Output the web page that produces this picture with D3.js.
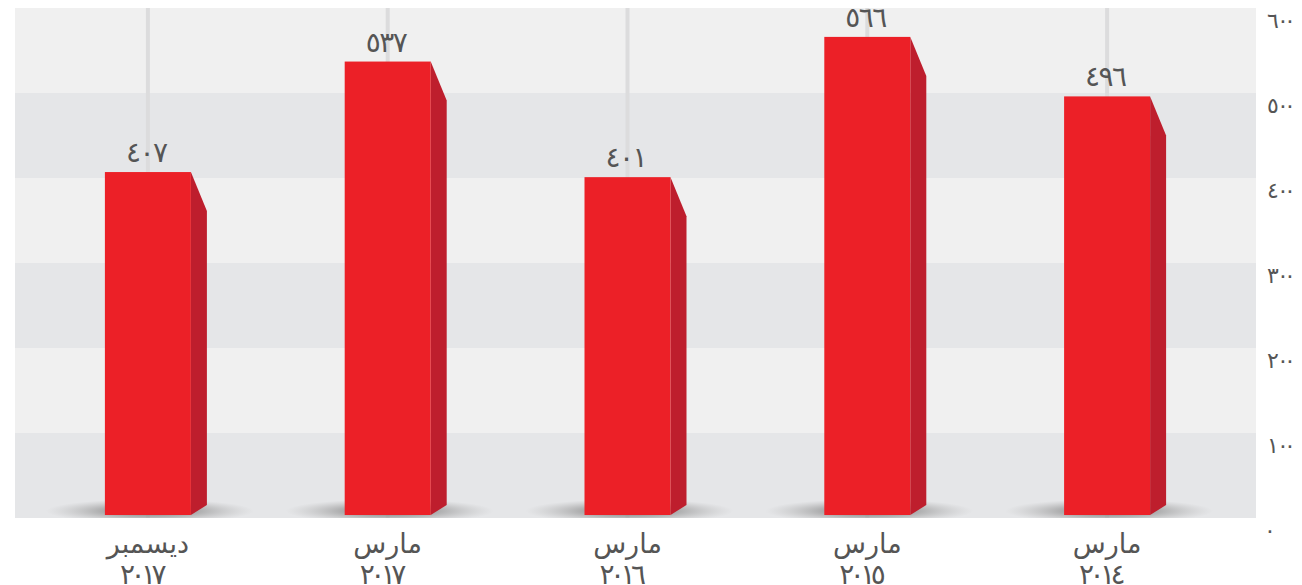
<!DOCTYPE html>
<html>
<head>
<meta charset="utf-8">
<script src="https://cdn.jsdelivr.net/npm/d3@7"></script>
<style>
  body { margin: 0; background: #fff; }
  text { font-family: "DejaVu Sans", sans-serif; }
</style>
</head>
<body>
<svg id="chart" width="1302" height="585"></svg>
<script>
// categories (right to left in the picture means oldest on the right)
const categories = ["ديسمبر ٢٠١٧", "مارس ٢٠١٧", "مارس ٢٠١٦", "مارس ٢٠١٥", "مارس ٢٠١٤"];
const values = [407, 537, 401, 566, 496];
const yTicks = [0, 100, 200, 300, 400, 500, 600];

const toArabic = n => String(n).replace(/\d/g, d => "٠١٢٣٤٥٦٧٨٩"[d]);

// siffrorna ligger tätt i originalet: placera varje tecken för sig
const digitXs = (x0, str, step) => Array.from(str, (_, i) => x0 + i * step).join(" ");

const svg = d3.select("#chart");
const plotL = 15, plotR = 1256, plotT = 8, plotB = 518;

const x = d3.scaleBand()
  .domain(categories)
  .range([28, 1227]);

const y = d3.scaleLinear()
  .domain([0, 600])
  .range([plotB, plotT]);

const barW = 86;
const sideW = 16, sideDrop = 39, sideRise = 10;

const defs = svg.append("defs");
const grad = defs.append("radialGradient").attr("id", "shadow");
grad.append("stop").attr("offset", "0%").attr("stop-color", "#555").attr("stop-opacity", 0.9);
grad.append("stop").attr("offset", "50%").attr("stop-color", "#888").attr("stop-opacity", 0.55);
grad.append("stop").attr("offset", "100%").attr("stop-color", "#aaa").attr("stop-opacity", 0);

defs.append("clipPath").attr("id", "plotclip")
  .append("rect")
  .attr("x", plotL).attr("y", plotT)
  .attr("width", plotR - plotL).attr("height", plotB - plotT);

// bandes de fond
const bands = d3.range(0, 6);
svg.selectAll("rect.band")
  .data(bands)
  .enter()
  .append("rect")
  .attr("class", "band")
  .attr("x", plotL)
  .attr("width", plotR - plotL)
  .attr("y", i => y((i + 1) * 100))
  .attr("height", i => y(i * 100) - y((i + 1) * 100))
  .attr("fill", i => i % 2 === 0 ? "#e5e6e8" : "#f0f0f0");

// vertical grid lines
svg.selectAll("line.vgrid")
  .data(categories)
  .enter()
  .append("line")
  .attr("x1", d => x(d) + x.bandwidth() / 2)
  .attr("x2", d => x(d) + x.bandwidth() / 2)
  .attr("y1", plotT)
  .attr("y2", plotB)
  .attr("stroke", "#dcdcdd")
  .attr("stroke-width", 4);

// shadows
svg.append("g")
  .attr("clip-path", "url(#plotclip)")
  .selectAll("ellipse")
  .data(categories)
  .enter()
  .append("ellipse")
  .attr("cx", d => x(d) + x.bandwidth() / 2 + 2)
  .attr("cy", plotB - 7)
  .attr("rx", 104)
  .attr("ry", 12)
  .attr("fill", "url(#shadow)");

const bars = svg.selectAll("g.bar")
  .data(categories.map((c, i) => ({ cat: c, value: values[i] })))
  .enter()
  .append("g")
  .attr("class", "bar");

const cx = c => x(c) + x.bandwidth() / 2;
const bx = d => cx(d.cat) - barW / 2;

// side face
bars.append("path")
  .attr("d", d => {
    const x0 = bx(d) + barW, t = y(d.value);
    return `M${x0},${t} L${x0 + sideW},${t + sideDrop} L${x0 + sideW},${plotB - 3 - sideRise} L${x0},${plotB - 3} Z`;
  })
  .attr("fill", "#be1e2d");

// front face
bars.append("rect")
  .attr("x", bx)
  .attr("width", barW)
  .attr("y", d => y(d.value))
  .attr("height", d => plotB - 3 - y(d.value))
  .attr("fill", "#ec2027");

// value labels
bars.append("text")
  .attr("x", d => digitXs(cx(d.cat) - 22, toArabic(d.value), 13.5))
  .attr("y", d => y(d.value) - 10)
  .attr("font-size", 28)
  .attr("fill", "#555")
  .text(d => toArabic(d.value));

// category labels (two lines)
svg.selectAll("text.cat")
  .data(categories)
  .enter()
  .append("text")
  .attr("class", "cat")
  .attr("text-anchor", "middle")
  .attr("x", cx)
  .attr("y", 553)
  .attr("font-size", 27)
  .attr("fill", "#555")
  .text(d => d.split(" ")[0]);

svg.selectAll("text.year")
  .data(categories)
  .enter()
  .append("text")
  .attr("class", "year")
  .attr("x", d => digitXs(cx(d) - 28, d.split(" ")[1], 10.5))
  .attr("y", 584)
  .attr("font-size", 28)
  .attr("fill", "#555")
  .text(d => d.split(" ")[1]);

// y axis on the right
svg.selectAll("text.ytick")
  .data(yTicks)
  .enter()
  .append("text")
  .attr("class", "ytick")
  .attr("x", d => d === 0 ? "1264" : "1267 1277 1284")
  .attr("y", d => y(d) + 20)
  .attr("font-size", 22)
  .attr("fill", "#555")
  .text(d => toArabic(d));
</script>
</body>
</html>
